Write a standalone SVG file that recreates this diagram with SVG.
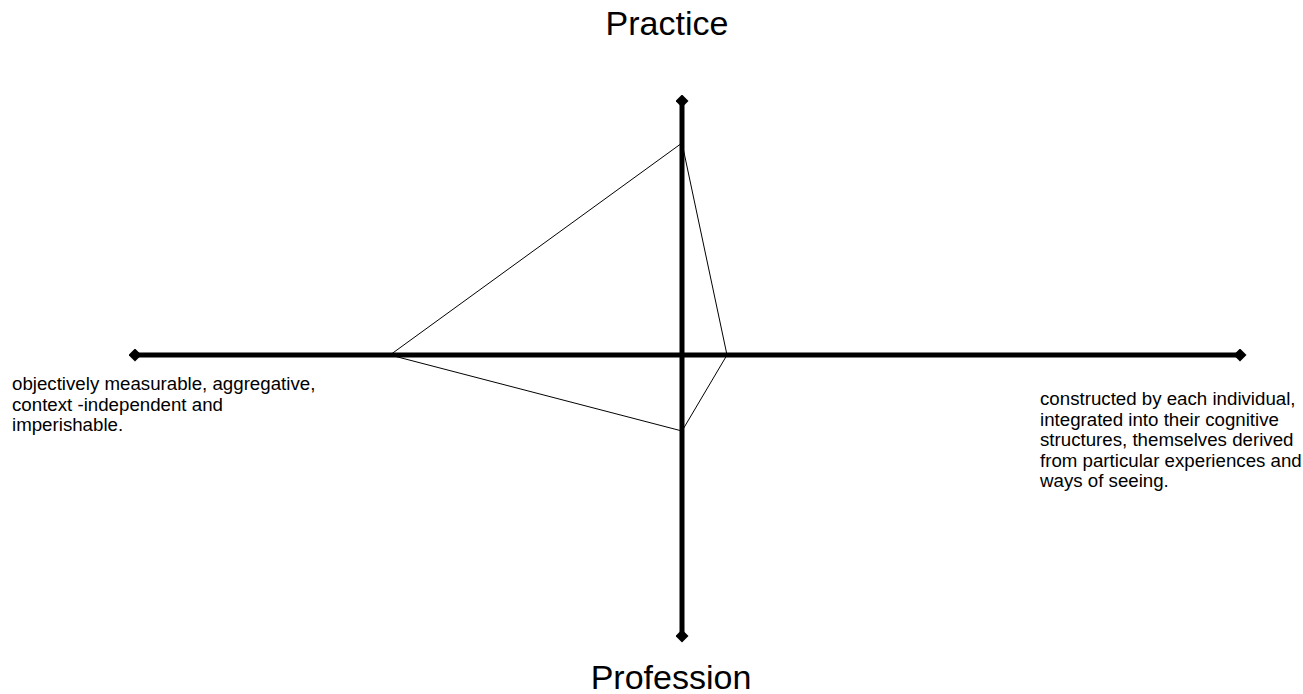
<svg xmlns="http://www.w3.org/2000/svg" width="1303" height="694" viewBox="0 0 1303 694">
<style>
.axis{stroke:#000;stroke-width:5;fill:none}
.thin{stroke:#000;stroke-width:1;fill:none}
.t{font-family:"Liberation Sans",Arial,sans-serif;fill:#000}
.big{font-size:34px}
.small{font-size:18.7px}
</style>
<defs>
<marker id="dia" viewBox="-6 -6 12 12" markerWidth="13" markerHeight="13" markerUnits="userSpaceOnUse" orient="auto" refX="0" refY="0">
<path d="M-6 0 L0 -6 L6 0 L0 6 Z" fill="#000"/>
</marker>
</defs>
<rect width="1303" height="694" fill="#fff"/>
<g id="connectors">
<line class="axis" x1="135" y1="355" x2="1240" y2="355" marker-start="url(#dia)" marker-end="url(#dia)"/>
<line class="axis" x1="682" y1="101" x2="682" y2="636" marker-start="url(#dia)" marker-end="url(#dia)"/>
<polygon class="thin" points="682,143 390,355 682,431 727,355"/>
</g>
<g id="practice"><text class="t big" x="667" y="35" text-anchor="middle">Practice</text></g>
<g id="profession"><text class="t big" x="671" y="689" text-anchor="middle">Profession</text></g>
<g id="left-label">
<text class="t small" x="12" y="390">objectively measurable, aggregative,</text>
<text class="t small" x="12" y="410.5">context -independent and</text>
<text class="t small" x="12" y="431">imperishable.</text>
</g>
<g id="right-label">
<text class="t small" x="1040" y="405">constructed by each individual,</text>
<text class="t small" x="1040" y="425.5">integrated into their cognitive</text>
<text class="t small" x="1040" y="446">structures, themselves derived</text>
<text class="t small" x="1040" y="466.5">from particular experiences and</text>
<text class="t small" x="1040" y="487">ways of seeing.</text>
</g>
</svg>
